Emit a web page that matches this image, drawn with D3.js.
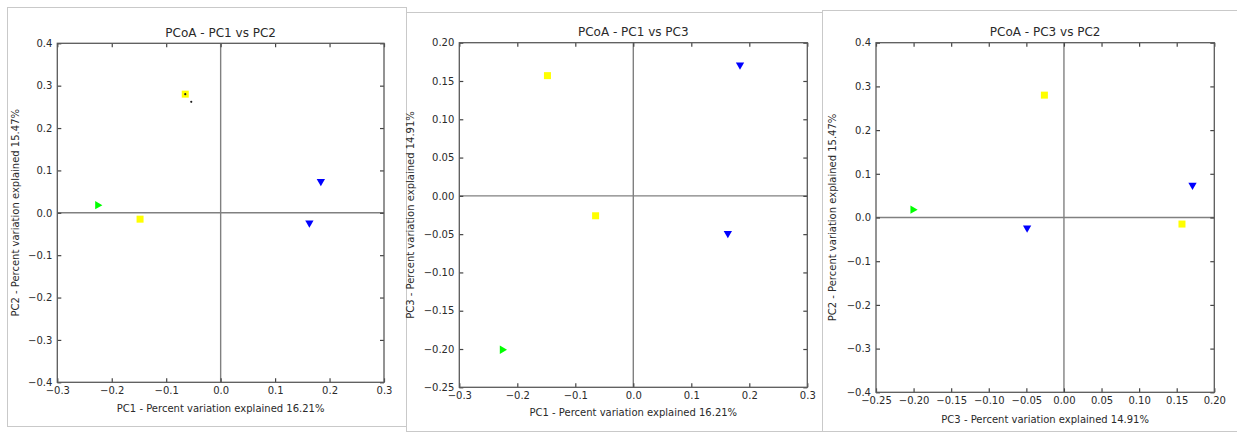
<!DOCTYPE html>
<html>
<head>
<meta charset="utf-8">
<script src="https://cdn.jsdelivr.net/npm/d3@7"></script>
<style>
  body { margin: 0; background: #fff; }
  svg { display: block; font-family: "DejaVu Sans", sans-serif; }
</style>
</head>
<body>
<div id="chart-div"></div>
<script>
// PCoA coordinates of the five samples
const samples = ["S1", "S2", "S3", "S4", "S5"];
const sampleGroup = ["A", "B", "B", "C", "C"];
const pc1 = [-0.226, -0.148, -0.065, 0.184, 0.163];
const pc2 = [0.018, -0.015, 0.280, 0.074, -0.024];
const pc3 = [-0.201, 0.157, -0.026, 0.171, -0.049];

// stray black dots on the first plot
const dotPc1 = [-0.065, -0.054];
const dotPc2 = [0.280, 0.262];

const pcLabels = {
  pc1: "PC1 - Percent variation explained 16.21%",
  pc2: "PC2 - Percent variation explained 15.47%",
  pc3: "PC3 - Percent variation explained 14.91%"
};
const pcValues = { pc1: pc1, pc2: pc2, pc3: pc3 };

const ticksWide = [-0.3, -0.2, -0.1, 0.0, 0.1, 0.2, 0.3];
const ticksPc2 = [-0.4, -0.3, -0.2, -0.1, 0.0, 0.1, 0.2, 0.3, 0.4];
const ticksPc3 = [-0.25, -0.20, -0.15, -0.10, -0.05, 0.00, 0.05, 0.10, 0.15, 0.20];

// marker style per group
const groupStyle = {
  A: { color: "#00ff00", shape: "right" },
  B: { color: "#ffff00", shape: "square" },
  C: { color: "#0000ff", shape: "down" }
};

const width = 1237;
const height = 433;

const panels = [
  { title: "PCoA - PC1 vs PC2", x: "pc1", y: "pc2",
    xTicks: ticksWide, yTicks: ticksPc2, xFmt: ".1f", yFmt: ".1f",
    frame: [7, 7, 399, 419], plot: [57.3, 384, 43.3, 382.3],
    titleY: 33, xLabelY: 408, yLabelX: 15, dots: true },
  { title: "PCoA - PC1 vs PC3", x: "pc1", y: "pc3",
    xTicks: ticksWide, yTicks: ticksPc3, xFmt: ".1f", yFmt: ".2f",
    frame: [406, 12, 416, 419], plot: [459.3, 807.3, 42.7, 387.3],
    titleY: 32, xLabelY: 412, yLabelX: 410 },
  { title: "PCoA - PC3 vs PC2", x: "pc3", y: "pc2",
    xTicks: ticksPc3, yTicks: ticksPc2, xFmt: ".2f", yFmt: ".1f",
    frame: [822, 10, 430, 421], plot: [876, 1214.3, 42.7, 392.3],
    titleY: 32, xLabelY: 419, yLabelX: 832 }
];

const svg = d3.select("#chart-div")
  .append("svg")
  .attr("width", width)
  .attr("height", height);

function symbolPath(shape) {
  if (shape === "square") return d3.symbol(d3.symbolSquare, 49)();
  return d3.symbol(d3.symbolTriangle, 30)();
}
function symbolRotate(shape) {
  if (shape === "down") return 180;
  if (shape === "right") return 90;
  return 0;
}

panels.forEach((p) => {
  const [fx, fy, fw, fh] = p.frame;
  const [x0, x1, y0, y1] = p.plot;
  const g = svg.append("g");

  // card behind each plot
  g.append("rect")
    .attr("x", fx + 0.5).attr("y", fy + 0.5)
    .attr("width", fw).attr("height", fh)
    .attr("fill", "#fff").attr("stroke", "#c9c9c9");

  const xScale = d3.scaleLinear().domain(d3.extent(p.xTicks)).range([x0, x1]);
  const yScale = d3.scaleLinear().domain(d3.extent(p.yTicks)).range([y1, y0]);

  // zero lines
  g.append("line")
    .attr("x1", x0).attr("x2", x1)
    .attr("y1", yScale(0)).attr("y2", yScale(0))
    .attr("stroke", "#808080").attr("stroke-width", 1.4);
  g.append("line")
    .attr("x1", xScale(0)).attr("x2", xScale(0))
    .attr("y1", y0).attr("y2", y1)
    .attr("stroke", "#808080").attr("stroke-width", 1.4);

  const axes = [
    [d3.axisBottom(xScale).tickValues(p.xTicks).tickFormat(d3.format(p.xFmt)), `translate(0,${y1})`],
    [d3.axisTop(xScale).tickValues(p.xTicks).tickFormat(""), `translate(0,${y0})`],
    [d3.axisLeft(yScale).tickValues(p.yTicks).tickFormat(d3.format(p.yFmt)), `translate(${x0},0)`],
    [d3.axisRight(yScale).tickValues(p.yTicks).tickFormat(""), `translate(${x1},0)`]
  ];
  axes.forEach(([ax, tr]) => {
    const a = g.append("g")
      .attr("transform", tr)
      .call(ax.tickSizeInner(-4).tickSizeOuter(0).tickPadding(5));
    a.select(".domain").remove();
    a.selectAll("line").attr("stroke", "#444").attr("stroke-width", 1.2);
    a.selectAll("text")
      .attr("fill", "#2a2a2a")
      .style("font-size", "10px")
      .style("font-family", "DejaVu Sans, sans-serif");
  });

  // axes frame
  g.append("rect")
    .attr("x", x0).attr("y", y0)
    .attr("width", x1 - x0).attr("height", y1 - y0)
    .attr("fill", "none").attr("stroke", "#5a5a5a").attr("stroke-width", 1.3);

  // title and labels
  g.append("text")
    .attr("x", (x0 + x1) / 2).attr("y", p.titleY).attr("dy", "0.35em")
    .attr("text-anchor", "middle").attr("fill", "#2a2a2a")
    .style("font-size", "12px").text(p.title);
  g.append("text")
    .attr("x", (x0 + x1) / 2).attr("y", p.xLabelY).attr("dy", "0.35em")
    .attr("text-anchor", "middle").attr("fill", "#2a2a2a")
    .style("font-size", "10px").text(pcLabels[p.x]);
  g.append("text")
    .attr("transform", `translate(${p.yLabelX},${(y0 + y1) / 2}) rotate(-90)`)
    .attr("dy", "0.35em")
    .attr("text-anchor", "middle").attr("fill", "#2a2a2a")
    .style("font-size", "10px").text(pcLabels[p.y]);

  // sample markers
  const xs = pcValues[p.x];
  const ys = pcValues[p.y];
  g.selectAll("path.pt")
    .data(samples)
    .enter()
    .append("path")
    .attr("class", "pt")
    .attr("d", (d, i) => symbolPath(groupStyle[sampleGroup[i]].shape))
    .attr("transform", (d, i) =>
      `translate(${xScale(xs[i])},${yScale(ys[i])}) rotate(${symbolRotate(groupStyle[sampleGroup[i]].shape)})`)
    .attr("fill", (d, i) => groupStyle[sampleGroup[i]].color)
    .append("title")
    .text((d, i) => `${d}: ${xs[i]}, ${ys[i]}`);

  if (p.dots) {
    g.selectAll("circle.dot")
      .data(dotPc1)
      .enter()
      .append("circle")
      .attr("class", "dot")
      .attr("cx", (d) => xScale(d))
      .attr("cy", (d, i) => yScale(dotPc2[i]))
      .attr("r", 1.1)
      .attr("fill", "#222");
  }
});
</script>
</body>
</html>
